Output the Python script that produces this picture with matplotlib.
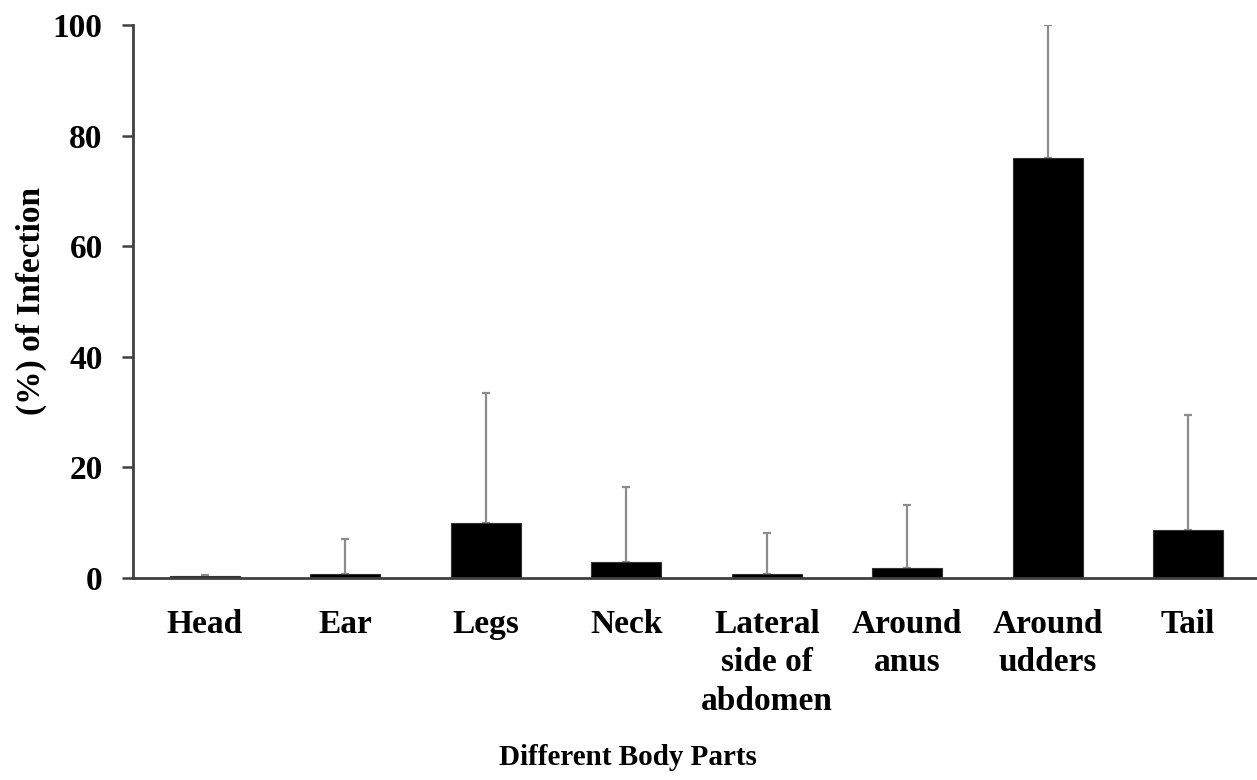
"""
Percentage of infection by body part, bar chart with upper error bars.
"""

import numpy as np
import matplotlib
matplotlib.use("Agg")
import matplotlib.pyplot as plt

# ─── Data ────────────────────────────────────────────────────────────────────

body_parts = ["Head", "Ear", "Legs", "Neck", "Lateral\nside of\nabdomen",
              "Around\nanus", "Around\nudders", "Tail"]
infection_pct = [0.3, 0.8, 10.0, 2.9, 0.8, 1.8, 76.0, 8.7]
upper_err = [0.3, 6.3, 23.4, 13.5, 7.4, 11.4, 24.0, 20.8]
y_ticks = [0, 20, 40, 60, 80, 100]

# ─── Plot ────────────────────────────────────────────────────────────────────

plt.rcParams["font.family"] = ["Liberation Serif", "DejaVu Serif"]
plt.rcParams["font.weight"] = "bold"

fig = plt.figure(figsize=(12.57, 7.80), dpi=100)
ax = fig.add_axes([0.106, 0.259, 0.894, 0.709])

x = np.arange(len(body_parts))
lower = np.zeros(len(body_parts))
ax.bar(x, infection_pct, width=0.5, color="black", edgecolor="#333333",
       linewidth=0.8, zorder=2)
ax.errorbar(x, infection_pct, yerr=[lower, upper_err], fmt="none",
            ecolor="#8c8c8c", elinewidth=1.6, capsize=3, capthick=1.6,
            zorder=1)

ax.set_xlim(-0.51, 7.49)
ax.set_ylim(0, 100)
ax.set_yticks(y_ticks)
ax.set_xticks(x)
ax.set_xticklabels(body_parts, fontsize=24, fontweight="bold",
                   linespacing=1.32)
ax.tick_params(axis="x", length=0, pad=22)
ax.tick_params(axis="y", length=8, width=1.8, color="#404040",
               labelsize=24, pad=14, direction="out")

for side in ("top", "right"):
    ax.spines[side].set_visible(False)
for side in ("left", "bottom"):
    ax.spines[side].set_color("#404040")
    ax.spines[side].set_linewidth(2)

ax.set_ylabel("(%) of Infection", fontsize=24, fontweight="bold", labelpad=4)
ax.set_xlabel("Different Body Parts", fontsize=21, fontweight="bold")
ax.xaxis.set_label_coords(0.44, -0.30)

fig.savefig("out.png", dpi=100)
plt.close(fig)
